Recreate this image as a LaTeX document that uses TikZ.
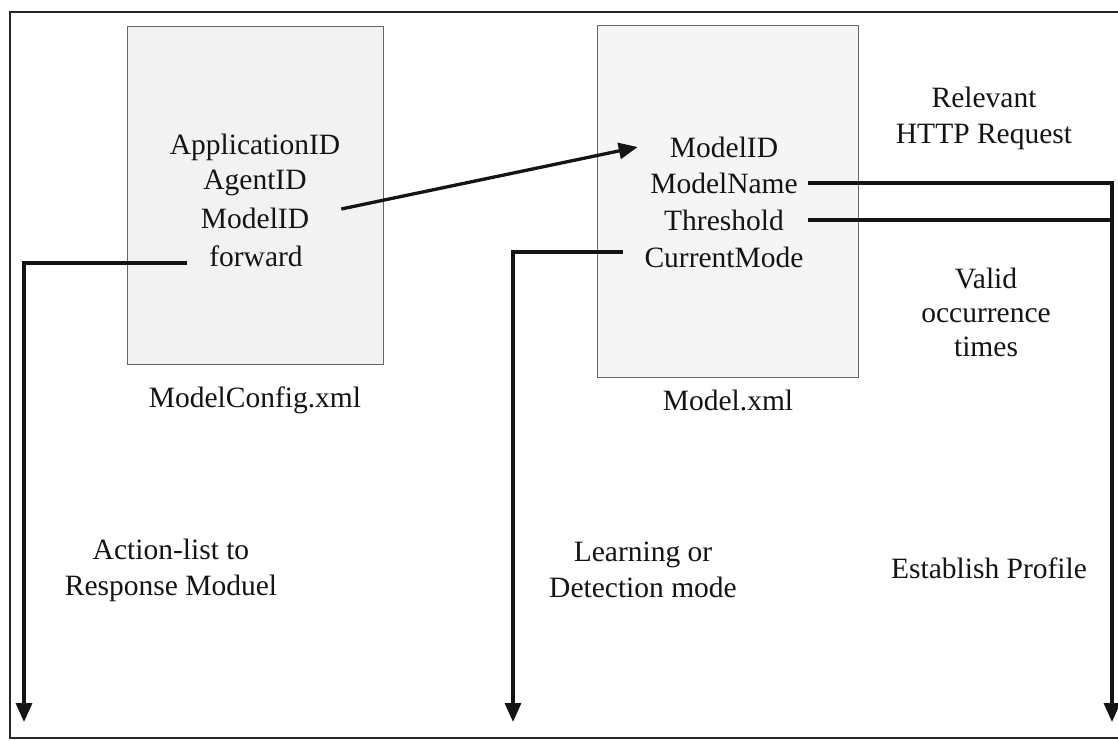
\documentclass[tikz,border=0pt]{standalone}
\usepackage{fontspec}
\setmainfont{Liberation Serif}
\usetikzlibrary{arrows.meta,calc}
\begin{document}
\begin{tikzpicture}[x=1pt,y=-1pt,
  label/.style={font=\fontsize{29.5}{36}\selectfont, text=black!92, inner sep=0pt, align=center},
  xmlbox/.style={draw=black!60, line width=1pt, fill=black!5, inner sep=0pt},
  link/.style={line width=3.3pt, draw=black!92},
  tip/.style={-{Triangle[length=19pt,width=16pt]}},
  frame/.style={line width=1.8pt, draw=black!85}]
  \useasboundingbox (0,0) rectangle (1118,740);
  \fill[white] (0,0) rectangle (1118,740);

  % outer frame
  \draw[frame] (1118,12) -- (10,12) -- (10,738) -- (1118,738);

  % the two XML files
  \node[xmlbox, minimum width=256pt, minimum height=338pt] (cfg) at (255,195) {};
  \node[xmlbox, minimum width=261pt, minimum height=352pt, fill=black!4] (mdl) at (727.5,201) {};

  % ModelConfig.xml fields
  \node[label] (appid) at (255,147) {ApplicationID};
  \node[label] (agent) at (255,183) {AgentID};
  \node[label] (mid1)  at (255,218) {ModelID};
  \node[label] (fwd)   at (256,256) {forward};
  \node[label] (cfgname) at (255,400) {ModelConfig.xml};

  % Model.xml fields
  \node[label] (mid2)  at (724,147) {ModelID};
  \node[label] (mname) at (724,183) {ModelName};
  \node[label] (thr)   at (724,220) {Threshold};
  \node[label] (cmode) at (724,257) {CurrentMode};
  \node[label] (mdlname) at (728,400) {Model.xml};

  % side notes
  \node[label] (http)  at (984,118) {Relevant\\HTTP Request};
  \node[label, font=\fontsize{29.5}{34}\selectfont] (valid) at (986,312) {Valid\\occurrence\\times};
  \node[label] (action) at (171,570) {Action-list to\\Response Moduel};
  \node[label] (mode)   at (643,570) {Learning or\\Detection mode};
  \node[label] (prof)   at (989,568) {Establish Profile};

  % connector ends
  \coordinate (outA) at (24,722);
  \coordinate (outB) at (513,722);
  \coordinate (outC) at (1112,722);
  \coordinate (rstart) at ($(mname.east)+(10,0)$);

  % connectors
  \draw[link,tip] ($(mid1.east)+(32,-9)$) -- ($(mid2.west)+(-32,0)$);
  \draw[link,tip] ($(fwd.west)+(-22,7)$) -| (outA);
  \draw[link,tip] ($(cmode.west)+(-21,-5)$) -| (outB);
  \draw[link,tip] (rstart) -| (outC);
  \draw[link] (rstart |- thr.center) -- (outC |- thr.center);
\end{tikzpicture}
\end{document}
